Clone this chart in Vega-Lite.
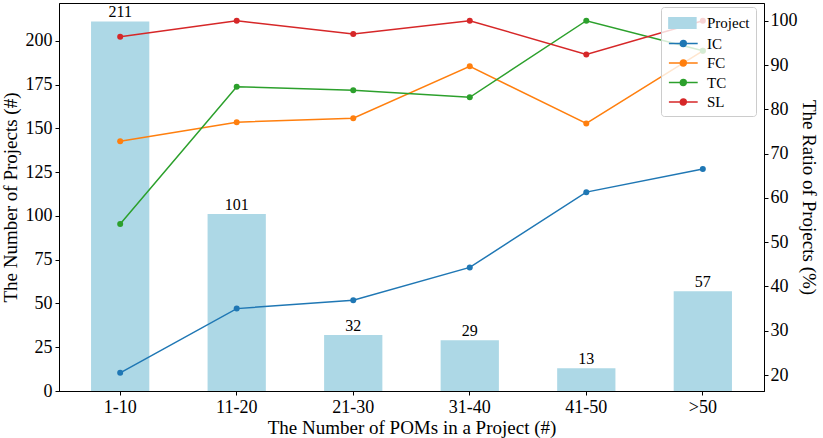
{
  "$schema": "https://vega.github.io/schema/vega-lite/v6.json",
  "width": 705,
  "height": 388,
  "autosize": "none",
  "padding": {"left": 59, "top": 3, "right": 59, "bottom": 47},
  "config": {
    "font": "Liberation Serif",
    "view": {"stroke": "black", "strokeWidth": 1},
    "axis": {
      "labelFont": "Liberation Serif",
      "titleFont": "Liberation Serif",
      "labelFontSize": 18,
      "titleFontSize": 19,
      "titleFontWeight": "normal",
      "labelColor": "black",
      "titleColor": "black",
      "domainColor": "black",
      "tickColor": "black",
      "tickSize": 4,
      "labelPadding": 3,
      "grid": false
    },
    "legend": {
      "labelFont": "Liberation Serif",
      "labelFontSize": 15,
      "labelColor": "black"
    }
  },
  "datasets": {
    "bars": [
      {"range": "1-10", "count": 211, "series": "Project"},
      {"range": "11-20", "count": 101, "series": "Project"},
      {"range": "21-30", "count": 32, "series": "Project"},
      {"range": "31-40", "count": 29, "series": "Project"},
      {"range": "41-50", "count": 13, "series": "Project"},
      {"range": ">50", "count": 57, "series": "Project"}
    ],
    "lines": [
      {"range": "1-10", "series": "IC", "ratio": 20.5},
      {"range": "11-20", "series": "IC", "ratio": 35.0},
      {"range": "21-30", "series": "IC", "ratio": 36.9},
      {"range": "31-40", "series": "IC", "ratio": 44.3},
      {"range": "41-50", "series": "IC", "ratio": 61.3},
      {"range": ">50", "series": "IC", "ratio": 66.5},
      {"range": "1-10", "series": "FC", "ratio": 72.8},
      {"range": "11-20", "series": "FC", "ratio": 77.1},
      {"range": "21-30", "series": "FC", "ratio": 78.0},
      {"range": "31-40", "series": "FC", "ratio": 89.7},
      {"range": "41-50", "series": "FC", "ratio": 76.8},
      {"range": ">50", "series": "FC", "ratio": 93.2},
      {"range": "1-10", "series": "TC", "ratio": 54.1},
      {"range": "11-20", "series": "TC", "ratio": 85.1},
      {"range": "21-30", "series": "TC", "ratio": 84.3},
      {"range": "31-40", "series": "TC", "ratio": 82.7},
      {"range": "41-50", "series": "TC", "ratio": 100},
      {"range": ">50", "series": "TC", "ratio": 93.2},
      {"range": "1-10", "series": "SL", "ratio": 96.4},
      {"range": "11-20", "series": "SL", "ratio": 100},
      {"range": "21-30", "series": "SL", "ratio": 97.0},
      {"range": "31-40", "series": "SL", "ratio": 100},
      {"range": "41-50", "series": "SL", "ratio": 92.4},
      {"range": ">50", "series": "SL", "ratio": 100}
    ]
  },
  "encoding": {
    "x": {
      "field": "range",
      "type": "nominal",
      "sort": ["1-10", "11-20", "21-30", "31-40", "41-50", ">50"],
      "scale": {"paddingInner": 0.5, "paddingOuter": 0.275},
      "axis": {"title": "The Number of POMs in a Project (#)", "labelAngle": 0, "titlePadding": 2}
    }
  },
  "layer": [
    {
      "layer": [
        {
          "data": {"name": "bars"},
          "mark": {"type": "bar", "color": "#add8e6"},
          "encoding": {
            "y": {
              "field": "count",
              "type": "quantitative",
              "scale": {"domain": [0, 221.55], "nice": false},
              "axis": {"title": "The Number of Projects (#)", "values": [0, 25, 50, 75, 100, 125, 150, 175, 200], "titlePadding": 5}
            },
            "color": {
              "field": "series",
              "type": "nominal",
              "scale": {"domain": ["Project", "IC", "FC", "TC", "SL"], "range": ["#add8e6", "#1f77b4", "#ff7f0e", "#2ca02c", "#d62728"]},
              "legend": {
                "title": null,
                "orient": "none",
                "legendX": 602,
                "legendY": 4,
                "zindex": 1,
                "padding": 6,
                "rowPadding": 1.5,
                "fillColor": "rgba(255,255,255,0.8)",
                "strokeColor": "#cccccc",
                "cornerRadius": 3,
                "symbolSize": 324,
                "labelOffset": 20,
                "encode": {
                  "symbols": {
                    "update": {
                      "shape": {"signal": "datum.value === 'Project' ? 'M-0.9,-0.58H2.1V0.58H-0.9Z' : 'M-0.9,0H2.3M0.37,0A0.33,0.33 0 1,1 1.03,0A0.33,0.33 0 1,1 0.37,0Z'"},
                      "fill": {"scale": "color", "field": "value"},
                      "stroke": {"scale": "color", "field": "value"},
                      "strokeWidth": {"value": 1.5},
                      "opacity": {"value": 1},
                      "fillOpacity": {"value": 1}
                    }
                  }
                }
              }
            }
          }
        },
        {
          "data": {"name": "bars"},
          "mark": {"type": "text", "baseline": "bottom", "dy": -1, "fontSize": 16, "font": "Liberation Serif", "color": "black"},
          "encoding": {
            "y": {"field": "count", "type": "quantitative"},
            "text": {"field": "count", "type": "quantitative"}
          }
        }
      ]
    },
    {
      "data": {"name": "lines"},
      "mark": {"type": "line", "strokeWidth": 1.5, "point": {"filled": true, "size": 36}},
      "encoding": {
        "y": {
          "field": "ratio",
          "type": "quantitative",
          "scale": {"domain": [16.4, 104], "nice": false, "zero": false},
          "axis": {"orient": "right", "title": "The Ratio of Projects (%)", "values": [20, 30, 40, 50, 60, 70, 80, 90, 100], "titlePadding": 1, "labelPadding": 2}
        },
        "color": {"field": "series", "type": "nominal"}
      }
    }
  ],
  "resolve": {"scale": {"y": "independent"}}
}
